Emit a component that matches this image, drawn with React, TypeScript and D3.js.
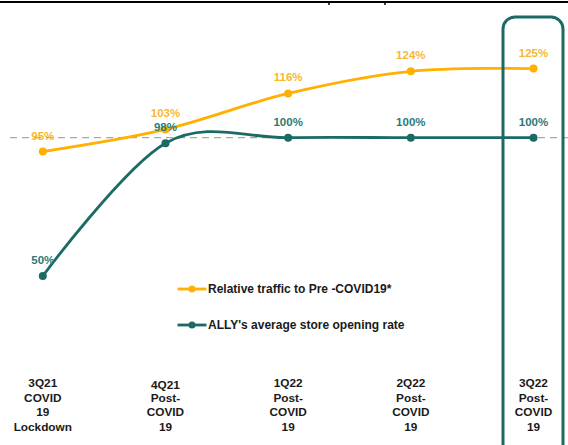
import React from "react";
import * as d3 from "d3";

const categories = ["3Q21", "4Q21", "1Q22", "2Q22", "3Q22"];
const subLabels = [
  ["COVID", "19", "Lockdown"],
  ["Post-", "COVID", "19"],
  ["Post-", "COVID", "19"],
  ["Post-", "COVID", "19"],
  ["Post-", "COVID", "19"],
];
const trafficValues = [95, 103, 116, 124, 125];
const openingValues = [50, 98, 100, 100, 100];
const seriesNames = ["Relative traffic to Pre -COVID19*", "ALLY's average store opening rate"];
const baseline = 100;

const W = 568;
const H = 445;
const ORANGE = "#FFB000";
const ORANGE_LABEL = "#F7B733";
const TEAL = "#1B6B64";
const TEAL_LABEL = "#2B7A76";
const FONT = "'Liberation Sans', Arial, sans-serif";

export default function App() {
  const x = d3.scalePoint<string>().domain(categories).range([42.8, 533.5]);
  const y = d3.scaleLinear().domain([50, 100]).range([276, 137.7]);

  const line = d3
    .line<number>()
    .x((_, i) => x(categories[i]) as number)
    .y((d) => y(d))
    .curve(d3.curveCardinal.tension(0));

  const series = [
    { values: trafficValues, color: ORANGE, label: ORANGE_LABEL },
    { values: openingValues, color: TEAL, label: TEAL_LABEL },
  ];

  return (
    <svg
      width={W}
      height={H}
      style={{ position: "absolute", left: 0, top: 0, background: "#fff" }}
      fontFamily={FONT}
    >
      <rect x={0} y={0} width={W} height={H} fill="#fff" />
      {/* top border */}
      <line x1={0} x2={W} y1={2} y2={2} stroke="#000" strokeWidth={2} />
      <line x1={329} x2={329} y1={1} y2={5} stroke="#000" strokeWidth={1.5} />
      <line x1={385} x2={385} y1={1} y2={5} stroke="#000" strokeWidth={1.5} />

      {/* baseline dashed */}
      <line
        x1={10}
        x2={W}
        y1={y(baseline)}
        y2={y(baseline)}
        stroke="#A8A8A8"
        strokeWidth={1.3}
        strokeDasharray="7,5"
      />

      {series.map((s, si) => (
        <g key={si}>
          <path d={line(s.values) || ""} fill="none" stroke={s.color} strokeWidth={2.8} />
          {s.values.map((v, i) => (
            <circle key={i} cx={x(categories[i])} cy={y(v)} r={4} fill={s.color} />
          ))}
        </g>
      ))}

      {series.map((s, si) =>
        s.values.map((v, i) => (
          <text
            key={`${si}-${i}`}
            x={x(categories[i])}
            y={y(v) - 12}
            textAnchor="middle"
            fontSize={11.5}
            fontWeight="bold"
            fill={s.label}
          >
            {v}%
          </text>
        ))
      )}

      {/* legend */}
      {series.map((s, si) => {
        const ly = 289 + si * 36;
        return (
          <g key={si}>
            <line x1={177.5} x2={206.5} y1={ly} y2={ly} stroke={s.color} strokeWidth={2.8} />
            <circle cx={192} cy={ly} r={3.5} fill={s.color} />
            <text x={208} y={ly + 4} fontSize={12} fontWeight="bold" fill="#1a1a1a">
              {seriesNames[si]}
            </text>
          </g>
        );
      })}

      {/* x labels */}
      {categories.map((c, i) => (
        <text
          key={c}
          x={x(c)}
          textAnchor="middle"
          fontSize={11.8}
          fontWeight="bold"
          fill="#1a1a1a"
        >
          {[c, ...subLabels[i]].map((t, j) => (
            <tspan key={j} x={x(c)} y={387 + j * 14.5 + (i === 1 && j === 0 ? 1.5 : 0)}>
              {t}
            </tspan>
          ))}
        </text>
      ))}

      {/* highlight box */}
      <rect
        x={503}
        y={17}
        width={60}
        height={440}
        rx={12}
        ry={12}
        fill="none"
        stroke={TEAL}
        strokeWidth={3}
      />
    </svg>
  );
}
